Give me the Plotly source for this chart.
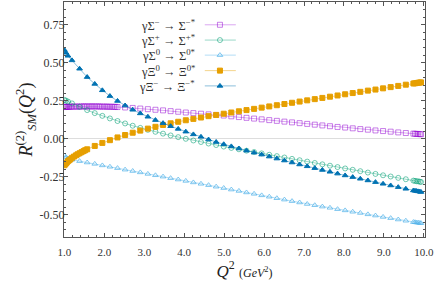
import plotly.graph_objects as go

# ---------------- data ----------------
Q2 = [1.00, 1.04, 1.09, 1.19, 1.38, 1.57, 1.76, 1.95, 2.14, 2.33, 2.52, 2.71, 2.90,
      3.09, 3.28, 3.47, 3.66, 3.85, 4.04, 4.23, 4.42, 4.61, 4.80, 4.99, 5.18, 5.37,
      5.56, 5.75, 5.94, 6.13, 6.32, 6.51, 6.70, 6.89, 7.08, 7.27, 7.46, 7.65, 7.84,
      8.03, 8.22, 8.41, 8.60, 8.79, 8.98, 9.17, 9.36, 9.55, 9.74, 9.78, 9.82, 9.86,
      9.90, 9.93]

sigma_minus = [0.208, 0.209, 0.209, 0.210, 0.211, 0.212, 0.212, 0.211, 0.210, 0.208,
               0.205, 0.202, 0.198, 0.194, 0.190, 0.186, 0.181, 0.177, 0.172, 0.168,
               0.164, 0.160, 0.156, 0.152, 0.147, 0.142, 0.137, 0.132, 0.127, 0.122,
               0.117, 0.112, 0.107, 0.102, 0.097, 0.092, 0.087, 0.082, 0.077, 0.073,
               0.068, 0.063, 0.059, 0.054, 0.050, 0.046, 0.041, 0.037, 0.033, 0.032,
               0.031, 0.031, 0.030, 0.029]
# extra (denser) samples of the Sigma- curve at low Q^2
sigma_minus_extra_Q2 = [1.02, 1.06, 1.12, 1.15, 1.24, 1.29, 1.33, 1.43, 1.48, 1.52, 1.62,
                        1.67, 1.71, 1.81, 1.86, 1.90, 2.00, 2.05, 2.09, 2.19, 2.24, 2.28]
sigma_minus_extra = [0.209, 0.209, 0.210, 0.210, 0.211, 0.211, 0.211, 0.212, 0.212, 0.212,
                     0.212, 0.212, 0.212, 0.212, 0.212, 0.211, 0.211, 0.211, 0.210, 0.210,
                     0.209, 0.209]

sigma_plus = [0.255, 0.250, 0.244, 0.232, 0.209, 0.188, 0.168, 0.150, 0.133, 0.116,
              0.100, 0.085, 0.071, 0.058, 0.045, 0.033, 0.021, 0.010, -0.001, -0.012,
              -0.022, -0.032, -0.042, -0.052, -0.061, -0.070, -0.079, -0.088, -0.097,
              -0.106, -0.115, -0.124, -0.133, -0.142, -0.151, -0.160, -0.169, -0.178,
              -0.187, -0.196, -0.205, -0.214, -0.223, -0.232, -0.241, -0.249, -0.258,
              -0.267, -0.276, -0.278, -0.280, -0.281, -0.283, -0.285]

sigma_zero = [-0.112, -0.122, -0.130, -0.139, -0.148, -0.157, -0.166, -0.176, -0.185,
              -0.194, -0.204, -0.213, -0.222, -0.232, -0.241, -0.250, -0.260, -0.269,
              -0.278, -0.288, -0.297, -0.306, -0.316, -0.325, -0.335, -0.344, -0.354,
              -0.363, -0.373, -0.382, -0.392, -0.401, -0.411, -0.420, -0.430, -0.438,
              -0.447, -0.455, -0.464, -0.472, -0.481, -0.489, -0.498, -0.506, -0.515,
              -0.523, -0.532, -0.540, -0.549, -0.550, -0.552, -0.553, -0.555, -0.556]

xi_zero = [-0.175, -0.162, -0.148, -0.126, -0.096, -0.070, -0.048, -0.028, -0.010, 0.008,
           0.024, 0.039, 0.053, 0.066, 0.078, 0.090, 0.101, 0.111, 0.121, 0.130, 0.139,
           0.148, 0.156, 0.164, 0.172, 0.180, 0.188, 0.196, 0.204, 0.212, 0.220, 0.228,
           0.236, 0.244, 0.252, 0.260, 0.268, 0.276, 0.284, 0.292, 0.300, 0.308, 0.316,
           0.323, 0.331, 0.339, 0.347, 0.355, 0.363, 0.364, 0.366, 0.368, 0.369, 0.370]
# extra (denser) samples of the Xi0 curve at low Q^2
xi_zero_extra_Q2 = [1.02, 1.06, 1.12, 1.15, 1.24, 1.29, 1.33, 1.43, 1.48, 1.52]
xi_zero_extra = [-0.168, -0.157, -0.142, -0.136, -0.118, -0.110, -0.103, -0.089, -0.082, -0.076]

xi_minus = [0.583, 0.565, 0.545, 0.515, 0.460, 0.405, 0.360, 0.318, 0.280, 0.248, 0.218,
            0.190, 0.166, 0.144, 0.122, 0.102, 0.082, 0.064, 0.046, 0.028, 0.012, -0.006,
            -0.022, -0.037, -0.051, -0.065, -0.079, -0.092, -0.105, -0.118, -0.131,
            -0.144, -0.157, -0.170, -0.182, -0.194, -0.206, -0.218, -0.230, -0.242,
            -0.253, -0.264, -0.275, -0.286, -0.297, -0.308, -0.319, -0.330, -0.341,
            -0.343, -0.345, -0.347, -0.349, -0.351]

labels = ["γΣ<sup>−</sup> → Σ<sup>−*</sup>",
          "γΣ<sup>+</sup> → Σ<sup>+*</sup>",
          "γΣ<sup>0</sup> → Σ<sup>0*</sup>",
          "γΞ<sup>0</sup> → Ξ<sup>0*</sup>",
          "γΞ<sup>−</sup> → Ξ<sup>−*</sup>"]

x_tickvals = [1, 2, 3, 4, 5, 6, 7, 8, 9, 10]
x_ticktext = ["1.0", "2.0", "3.0", "4.0", "5.0", "6.0", "7.0", "8.0", "9.0", "10.0"]
y_tickvals = [-0.5, -0.25, 0.0, 0.25, 0.5, 0.75]
y_ticktext = ["-0.50", "-0.25", "0.00", "0.25", "0.50", "0.75"]

for s in (sigma_minus, sigma_plus, sigma_zero, xi_zero, xi_minus):
    assert len(s) == len(Q2)


def merged(xa, ya, xb, yb):
    pts = sorted(zip(list(xa) + list(xb), list(ya) + list(yb)))
    return [p[0] for p in pts], [p[1] for p in pts]


# ---------------- styling ----------------
styles = [
    dict(line="rgba(148,0,211,0.35)", marker="rgba(148,0,211,0.5)", symbol="square-open", size=5),
    dict(line="rgba(0,158,115,0.40)", marker="rgba(0,158,115,0.55)", symbol="circle-open", size=5),
    dict(line="rgba(86,180,233,0.45)", marker="rgba(86,180,233,0.75)", symbol="triangle-up-open", size=5),
    dict(line="rgba(230,159,0,0.45)", marker="rgb(230,159,0)", symbol="square", size=5),
    dict(line="rgba(0,114,178,0.45)", marker="rgb(0,114,178)", symbol="triangle-up", size=5),
]

series = [
    merged(Q2, sigma_minus, sigma_minus_extra_Q2, sigma_minus_extra),
    (Q2, sigma_plus),
    (Q2, sigma_zero),
    merged(Q2, xi_zero, xi_zero_extra_Q2, xi_zero_extra),
    (Q2, xi_minus),
]

FONT = "Liberation Serif"
fig = go.Figure()

for (xs, ys), st, lab in zip(series, styles, labels):
    fig.add_trace(go.Scatter(
        x=xs, y=ys, mode="lines+markers", name=lab, showlegend=False,
        line=dict(color=st["line"], width=1),
        marker=dict(symbol=st["symbol"], size=st["size"], color=st["marker"],
                    line=dict(width=1, color=st["marker"])),
    ))

# ---- manual legend: text on the left, key (line + marker) on the right ----
leg_rows = [0.903, 0.838, 0.774, 0.708, 0.643]
key_x0, key_xm, key_x1 = 0.390, 0.432, 0.476
text_x = 0.369
for st, lab, yy in zip(styles, labels, leg_rows):
    fig.add_trace(go.Scatter(
        x=[key_x0, key_x1], y=[yy, yy], xaxis="x2", yaxis="y2", mode="lines",
        line=dict(color=st["line"], width=1), showlegend=False, hoverinfo="skip"))
    fig.add_trace(go.Scatter(
        x=[key_xm], y=[yy], xaxis="x2", yaxis="y2", mode="markers",
        marker=dict(symbol=st["symbol"], size=st["size"], color=st["marker"],
                    line=dict(width=1, color=st["marker"])),
        showlegend=False, hoverinfo="skip"))
    fig.add_annotation(x=text_x, y=yy, xref="paper", yref="paper", text=lab,
                       showarrow=False, xanchor="right", yanchor="middle",
                       font=dict(family=FONT, size=12.5, color="#333"))

axis_common = dict(
    showline=True, linecolor="#555", linewidth=1, mirror="allticks",
    ticks="inside", ticklen=4, tickcolor="#555", tickwidth=1,
    showgrid=False,
)

fig.update_layout(
    width=435, height=287,
    margin=dict(l=64, r=8, t=1, b=50),
    paper_bgcolor="white", plot_bgcolor="white",
    showlegend=False,
    xaxis=dict(
        range=[0.99, 10.03], tickmode="array", tickvals=x_tickvals, ticktext=x_ticktext,
        zeroline=False, ticklabeloverflow="allow", ticklabelstandoff=5,
        tickfont=dict(family=FONT, size=11, color="#333"),
        minor=dict(tickmode="linear", tick0=1, dtick=0.2, ticks="inside", ticklen=2,
                   tickcolor="#555"),
        title=dict(text="<i>Q</i><sup>2</sup> <span style='font-size:12px'>(<i>GeV</i><sup>2</sup>)</span>",
                   font=dict(family=FONT, size=17, color="#222"), standoff=7),
        **axis_common,
    ),
    yaxis=dict(
        range=[-0.647, 0.899], tickmode="array", tickvals=y_tickvals, ticktext=y_ticktext,
        zeroline=True, zerolinecolor="#dddddd", zerolinewidth=1, ticklabelstandoff=-4,
        tickfont=dict(family=FONT, size=12, color="#333"),
        minor=dict(tickmode="linear", tick0=0, dtick=0.05, ticks="inside", ticklen=2,
                   tickcolor="#555"),
        title=dict(text="<i>R</i><sup>(2)</sup><sub><i>SM</i></sub>(<i>Q</i><sup>2</sup>)",
                   font=dict(family=FONT, size=18, color="#222"), standoff=2),
        **axis_common,
    ),
    xaxis2=dict(overlaying="x", range=[0, 1], visible=False),
    yaxis2=dict(overlaying="y", range=[0, 1], visible=False),
)

# remove the browser's default page margin so the figure starts at the window corner
fig.write_html("out.html", config={"displayModeBar": False},
               post_script="document.body.style.margin='0';")
